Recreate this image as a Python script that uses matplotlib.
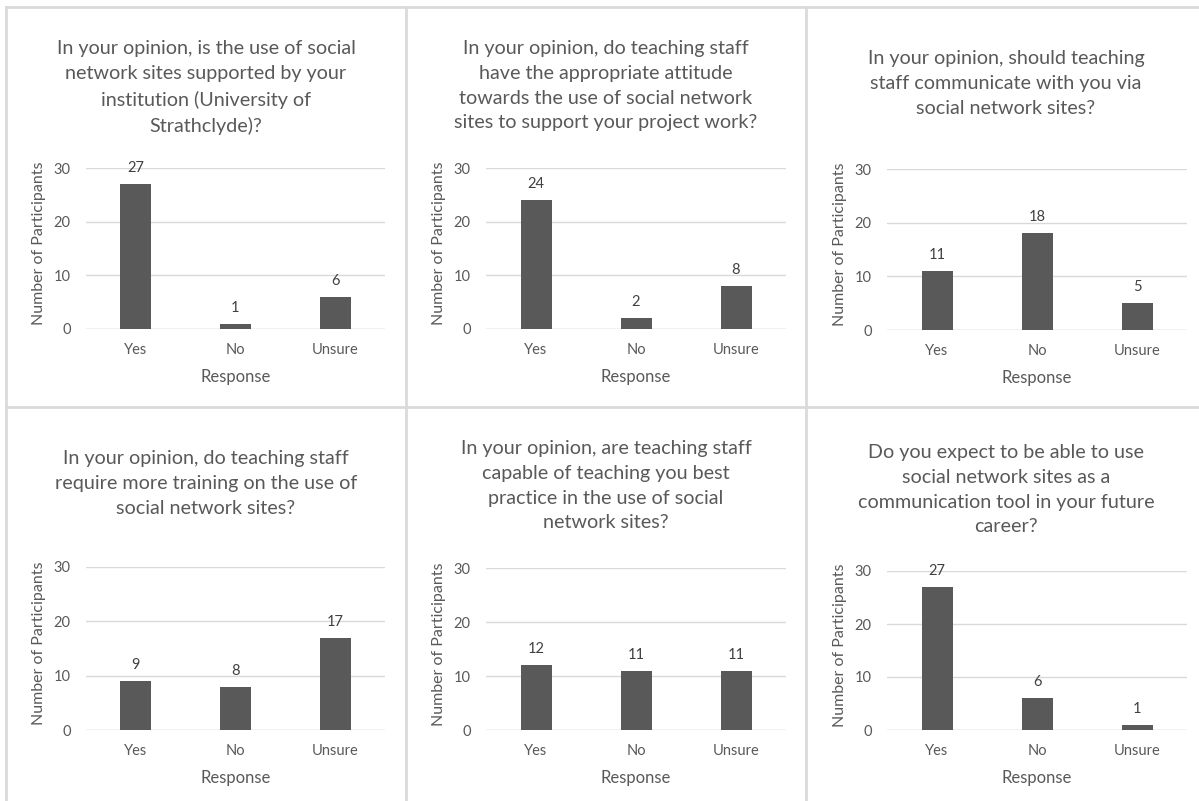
import matplotlib
matplotlib.use("Agg")
import matplotlib.pyplot as plt
from matplotlib.lines import Line2D

W, H = 1199, 801
DPI = 100

categories = ["Yes", "No", "Unsure"]
yticks = [0, 10, 20, 30]

q1_values = [27, 1, 6]
q2_values = [24, 2, 8]
q3_values = [11, 18, 5]
q4_values = [9, 8, 17]
q5_values = [12, 11, 11]
q6_values = [27, 6, 1]

q1_title = "In your opinion, is the use of social\nnetwork sites supported by your\ninstitution (University of\nStrathclyde)?"
q2_title = "In your opinion, do teaching staff\nhave the appropriate attitude\ntowards the use of social network\nsites to support your project work?"
q3_title = "In your opinion, should teaching\nstaff communicate with you via\nsocial network sites?"
q4_title = "In your opinion, do teaching staff\nrequire more training on the use of\nsocial network sites?"
q5_title = "In your opinion, are teaching staff\ncapable of teaching you best\npractice in the use of social\nnetwork sites?"
q6_title = "Do you expect to be able to use\nsocial network sites as a\ncommunication tool in your future\ncareer?"

x_label = "Response"
y_label = "Number of Participants"

panels = [
    (q1_title, q1_values, (86, 168, 385, 329), (206, 96)),
    (q2_title, q2_values, (486, 168, 786, 329), (606, 94)),
    (q3_title, q3_values, (887, 169, 1187, 330), (1006, 92)),
    (q4_title, q4_values, (86, 567, 385, 730), (206, 492)),
    (q5_title, q5_values, (486, 568, 786, 730), (606, 494)),
    (q6_title, q6_values, (887, 571, 1187, 730), (1006, 498)),
]

FONT = ["Lato", "DejaVu Sans"]
plt.rcParams["font.family"] = FONT
TXT = "#595959"
BAR = "#595959"
GRID = "#d9d9d9"

fig = plt.figure(figsize=(W / DPI, H / DPI), dpi=DPI)
fig.patch.set_facecolor("white")


def fx(px):
    return px / W


def fy(py):
    return 1 - py / H


border_kw = dict(color="#dadada", linewidth=2.0, transform=fig.transFigure)
fig.add_artist(Line2D([fx(6), fx(1199)], [fy(7), fy(7)], **border_kw))
fig.add_artist(Line2D([fx(6), fx(1199)], [fy(407), fy(407)], **border_kw))
for xv in (6, 405.5, 806):
    fig.add_artist(Line2D([fx(xv), fx(xv)], [fy(7), fy(801)], **border_kw))

for title, vals, (l, t, r, b), (tcx, tcy) in panels:
    ax = fig.add_axes([fx(l), fy(b), (r - l) / W, (b - t) / H])
    wpx = r - l
    hpx = b - t
    xs = list(range(len(categories)))
    ax.bar(xs, vals, width=0.31, color=BAR, zorder=3)
    ax.set_xlim(-0.5, 2.5)
    ax.set_ylim(0, 30)
    ax.set_yticks(yticks)
    ax.set_xticks(xs)
    ax.set_xticklabels(categories)
    ax.tick_params(axis="both", length=0, labelsize=10.5, labelcolor=TXT)
    ax.tick_params(axis="y", pad=11)
    ax.tick_params(axis="x", pad=10)
    ax.yaxis.grid(True, color=GRID, linewidth=1.0, zorder=0)
    for s in ax.spines.values():
        s.set_visible(False)
    ax.axhline(0, color=GRID, linewidth=1.0, zorder=2)
    ax.set_facecolor("none")
    for xi, v in zip(xs, vals):
        ax.annotate(str(v), (xi, v), xytext=(0, 9), textcoords="offset pixels",
                    ha="center", va="bottom", fontsize=10.5, color="#404040")
    ax.set_xlabel(x_label, fontsize=12, color=TXT)
    ax.xaxis.set_label_coords(0.5, -40 / hpx)
    ax.set_ylabel(y_label, fontsize=11.5, color=TXT)
    ax.yaxis.set_label_coords(-40 / wpx, 0.53)
    ax.set_title(title, fontsize=14.2, color=TXT, x=(tcx - l) / wpx,
                 y=(t - tcy) / hpx + 1, va="center", ha="center", linespacing=1.56)

fig.savefig("out.png", dpi=DPI, facecolor="white")
